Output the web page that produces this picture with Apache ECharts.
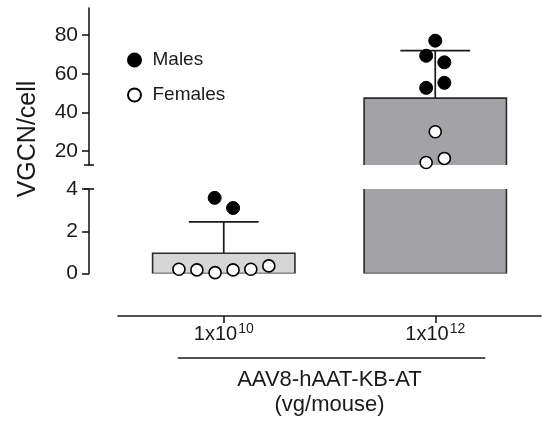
<!DOCTYPE html>
<html>
<head>
<meta charset="utf-8">
<script src="https://cdn.jsdelivr.net/npm/echarts@6/dist/echarts.min.js"></script>
<style>html,body{margin:0;padding:0;background:#fff}#c{width:546px;height:423px}</style>
</head>
<body>
<div id="c"></div>
<script>
// ---- data ----
const categories = ['1x10', '1x10'];
const exponents = ['10', '12'];
const barMeans = [0.96, 47.4];
const barSdTop = [2.44, 72.0];
const maleValues = [[3.58, 3.1], [77.1, 69.3, 65.9, 55.3, 52.7]];
const maleJitter = [[-0.043, 0.044], [0, -0.043, 0.043, 0.043, -0.043]];
const femaleValues = [[0.2, 0.17, 0.04, 0.17, 0.2, 0.36], [30.0, 16.2, 14.1]];
const femaleJitter = [[-0.212, -0.127, -0.041, 0.044, 0.128, 0.213], [0, 0.043, -0.043]];
const lowerTicks = [0, 2, 4];
const upperTicks = [20, 40, 60, 80];
const xTitle = ['AAV8-hAAT-KB-AT', '(vg/mouse)'];
const yTitle = 'VGCN/cell';

// ---- layout / style ----
const FONT = 'Liberation Sans';
const INK = '#1a1a1a';
const barColors = ['#d6d6d6', '#a3a2a7'];
const lowerRange = [0, 4];
const upperRange = [12.8, 94];
const grids = [
  {left: 118, top: 8, width: 423, height: 157},
  {left: 118, top: 189, width: 423, height: 84.5}
];

function inGrid(v, g) { return g === 1 ? v <= lowerRange[1] + 1e-9 : v > lowerRange[1]; }

function barItem(params, api) {
  const idx = api.value(0);
  const top = api.coord([idx, api.value(1)]);
  const base = api.coord([idx, 0]);
  const w = api.size([1, 0])[0] * 0.673;
  return {
    type: 'rect',
    shape: {x: top[0] - w / 2, y: top[1], width: w, height: base[1] - top[1]},
    style: {fill: barColors[idx], stroke: '#2a2a2a', lineWidth: 1.6}
  };
}
function errItem(params, api) {
  const idx = api.value(0);
  const p0 = api.coord([idx, api.value(1)]);
  const p1 = api.coord([idx, api.value(2)]);
  const hw = api.size([1, 0])[0] * 0.165;
  const st = {stroke: INK, lineWidth: 1.7};
  return {type: 'group', children: [
    {type: 'line', shape: {x1: p0[0], y1: p0[1], x2: p1[0], y2: p1[1]}, style: st},
    {type: 'line', shape: {x1: p1[0] - hw, y1: p1[1], x2: p1[0] + hw, y2: p1[1]}, style: st}
  ]};
}

const series = [];
[0, 1].forEach(function (g) {
  series.push({
    type: 'custom', xAxisIndex: g, yAxisIndex: g, clip: true, z: 2,
    renderItem: barItem, encode: {x: 0, y: 1},
    data: barMeans.map(function (v, i) { return (g === 0 && v <= upperRange[0]) ? null : [i, v]; }).filter(Boolean)
  });
  series.push({
    type: 'custom', xAxisIndex: g, yAxisIndex: g, z: 3,
    renderItem: errItem, encode: {x: 0, y: [1, 2]},
    data: barMeans.map(function (v, i) { return [i, v, barSdTop[i]]; })
      .filter(function (d) { return inGrid(d[1], g === 0 ? 0 : 1); })
  });
  const sx = g + 2;
  const males = [], females = [];
  maleValues.forEach(function (arr, i) { arr.forEach(function (v, j) { if (inGrid(v, g)) males.push([i + maleJitter[i][j], v]); }); });
  femaleValues.forEach(function (arr, i) { arr.forEach(function (v, j) { if (inGrid(v, g)) females.push([i + femaleJitter[i][j], v]); }); });
  series.push({
    name: 'Males', type: 'scatter', xAxisIndex: sx, yAxisIndex: g, clip: false, z: 5,
    symbol: 'circle', symbolSize: 13, itemStyle: {color: '#000', borderColor: '#000', borderWidth: 1, opacity: 1},
    data: males
  });
  series.push({
    name: 'Females', type: 'scatter', xAxisIndex: sx, yAxisIndex: g, clip: false, z: 5,
    symbol: 'circle', symbolSize: 12, itemStyle: {color: '#fff', borderColor: '#000', borderWidth: 1.6, opacity: 1},
    data: females
  });
});

const axisLine = {show: true, onZero: false, lineStyle: {color: INK, width: 1.6}};
const chart = echarts.init(document.getElementById('c'), null, {renderer: 'canvas'});
const option = {
  animation: false,
  backgroundColor: '#fff',
  textStyle: {fontFamily: FONT},
  grid: grids,
  legend: {
    data: ['Males', 'Females'], orient: 'vertical', left: 122, top: 45,
    itemWidth: 26, itemHeight: 13, itemGap: 15, selectedMode: false,
    textStyle: {fontFamily: FONT, fontSize: 19, color: INK, lineHeight: 20}
  },
  xAxis: [
    {type: 'category', gridIndex: 0, data: categories, show: false},
    {type: 'category', gridIndex: 1, data: categories, offset: 42.5,
      axisLine: axisLine,
      axisTick: {show: true, alignWithLabel: true, length: 7, lineStyle: {color: INK, width: 1.6}},
      axisLabel: {margin: 6, color: INK, fontFamily: FONT,
        formatter: function (v, i) { return '{b|' + v + '}{s|' + exponents[i] + '}'; },
        rich: {
          b: {fontSize: 20, fontFamily: FONT, color: INK, verticalAlign: 'bottom', lineHeight: 22},
          s: {fontSize: 14, fontFamily: FONT, color: INK, verticalAlign: 'top', lineHeight: 22, padding: [0, 0, 0, 1]}
        }
      }
    },
    {type: 'value', gridIndex: 0, min: -0.5, max: 1.5, show: false},
    {type: 'value', gridIndex: 1, min: -0.5, max: 1.5, show: false}
  ],
  yAxis: [
    {type: 'value', gridIndex: 0, min: upperRange[0], max: upperRange[1], offset: 29,
      axisLine: axisLine, splitLine: {show: false},
      axisTick: {show: true, length: 7, customValues: upperTicks, lineStyle: {color: INK, width: 1.6}},
      axisLabel: {margin: 11, fontSize: 21, color: INK, fontFamily: FONT, customValues: upperTicks}
    },
    {type: 'value', gridIndex: 1, min: lowerRange[0], max: lowerRange[1], interval: 2, offset: 29,
      axisLine: axisLine, splitLine: {show: false},
      axisTick: {show: true, length: 7, customValues: lowerTicks, lineStyle: {color: INK, width: 1.6}},
      axisLabel: {margin: 11, fontSize: 21, color: INK, fontFamily: FONT, customValues: lowerTicks}
    }
  ],
  series: series
};
chart.setOption(option);

// decorations derived from the grid geometry
const axisX = grids[0].left - 29;
const yUpperBottom = chart.convertToPixel({yAxisIndex: 0}, upperRange[0]);
const yLowerTop = chart.convertToPixel({yAxisIndex: 1}, lowerRange[1]);
const x0 = chart.convertToPixel({xAxisIndex: 1}, 0);
const x1 = chart.convertToPixel({xAxisIndex: 1}, 1);
const xAxisY = grids[1].top + grids[1].height + 42.5;
const mid = (x0 + x1) / 2;
chart.setOption({
  graphic: [
    {type: 'line', shape: {x1: axisX - 5, y1: yUpperBottom, x2: axisX + 5, y2: yUpperBottom}, style: {stroke: INK, lineWidth: 1.6}},
    {type: 'line', shape: {x1: axisX - 5, y1: yLowerTop, x2: axisX + 5, y2: yLowerTop}, style: {stroke: INK, lineWidth: 1.6}},
    {type: 'line', shape: {x1: x0 - 46, y1: xAxisY + 42, x2: x1 + 50, y2: xAxisY + 42}, style: {stroke: INK, lineWidth: 1.6}},
    {type: 'text', x: mid, y: xAxisY + 64, style: {text: xTitle[0], fontSize: 22, fontFamily: FONT, fill: INK, textAlign: 'center', textVerticalAlign: 'middle'}},
    {type: 'text', x: mid, y: xAxisY + 89, style: {text: xTitle[1], fontSize: 22, fontFamily: FONT, fill: INK, textAlign: 'center', textVerticalAlign: 'middle'}},
    {type: 'text', x: 28, y: 139, rotation: Math.PI / 2, style: {text: yTitle, fontSize: 25, fontFamily: FONT, fill: INK, textAlign: 'center', textVerticalAlign: 'middle'}}
  ]
});
</script>
</body>
</html>
